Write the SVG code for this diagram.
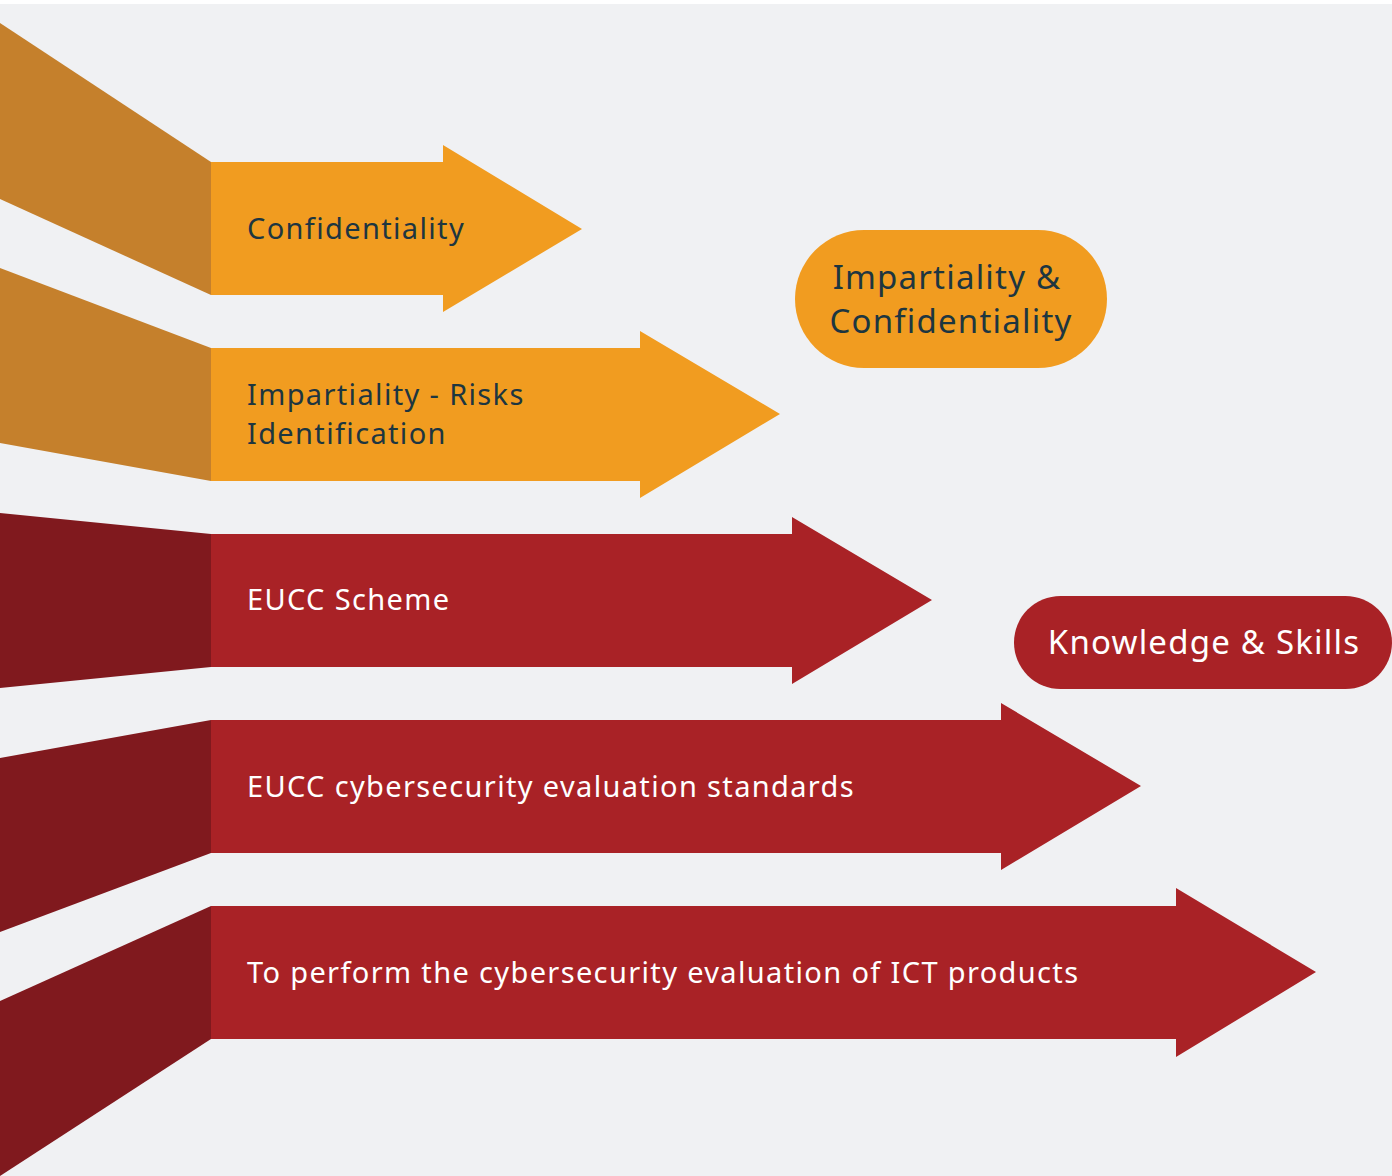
<svg xmlns="http://www.w3.org/2000/svg" width="1392" height="1176" viewBox="0 0 1392 1176">
<style>
.bg{fill:#F0F1F3}
.o{fill:#F19C20}
.os{fill:#C5802C}
.r{fill:#A92226}
.rs{fill:#80191E}
.t{font-family:"Noto Sans","Open Sans",sans-serif;font-size:29px;letter-spacing:1.35px}
.dk{fill:#1D3640}
.wt{fill:#FFFFFF}
.p{font-family:"Noto Sans","Open Sans",sans-serif;font-size:33px;letter-spacing:1.2px;text-anchor:middle}
</style>
<rect width="1392" height="1176" fill="#FFFFFF"/>
<rect class="bg" x="0" y="4" width="1392" height="1172"/>
<g id="connectors"></g>
<g id="arrow-confidentiality">
<polygon class="os" points="0,23 211,162 211,295 0,199"/>
<polygon class="o" points="211,162 443,162 443,145 582,229 443,312 443,295 211,295"/>
<text class="t dk" x="247" y="239">Confidentiality</text>
</g>
<g id="arrow-impartiality">
<polygon class="os" points="0,268 211,348 211,481 0,443"/>
<polygon class="o" points="211,348 640,348 640,331 780,414 640,498 640,481 211,481"/>
<text class="t dk" x="247" y="405">Impartiality - Risks</text>
<text class="t dk" x="247" y="444">Identification</text>
</g>
<g id="arrow-scheme">
<polygon class="rs" points="0,513 211,534 211,667 0,688"/>
<polygon class="r" points="211,534 792,534 792,517 932,600 792,684 792,667 211,667"/>
<text class="t wt" x="247" y="610">EUCC Scheme</text>
</g>
<g id="arrow-standards">
<polygon class="rs" points="0,758 211,720 211,853 0,932"/>
<polygon class="r" points="211,720 1001,720 1001,703 1141,786 1001,870 1001,853 211,853"/>
<text class="t wt" x="247" y="797">EUCC cybersecurity evaluation standards</text>
</g>
<g id="arrow-evaluation">
<polygon class="rs" points="0,1001 211,906 211,1039 0,1176"/>
<polygon class="r" points="211,906 1176,906 1176,888 1316,972 1176,1057 1176,1039 211,1039"/>
<text class="t wt" x="247" y="983">To perform the cybersecurity evaluation of ICT products</text>
</g>
<g id="pill-impartiality-confidentiality">
<rect class="o" x="795" y="230" width="312" height="138" rx="69" ry="69"/>
<text class="p dk" x="947" y="289">Impartiality &amp;</text>
<text class="p dk" x="951" y="333">Confidentiality</text>
</g>
<g id="pill-knowledge-skills">
<rect class="r" x="1014" y="596" width="378" height="93" rx="46.5" ry="46.5"/>
<text class="p wt" x="1204" y="654">Knowledge &amp; Skills</text>
</g>
</svg>
